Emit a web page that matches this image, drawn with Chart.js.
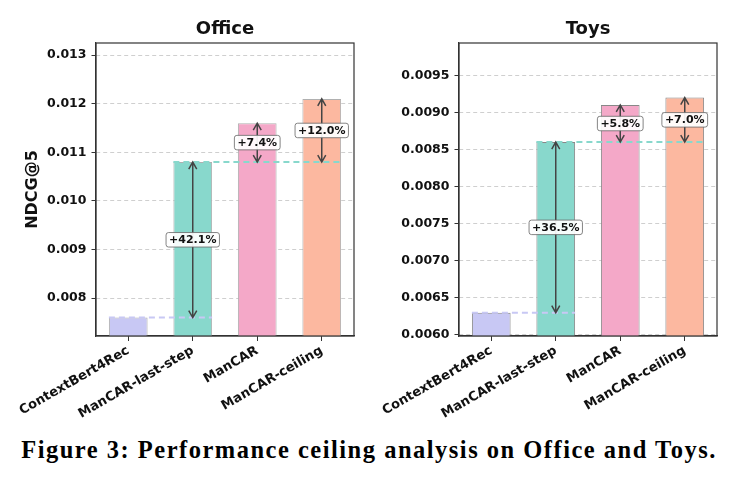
<!DOCTYPE html>
<html>
<head>
<meta charset="utf-8">
<script src="https://cdn.jsdelivr.net/npm/chart.js@4.4.1/dist/chart.umd.min.js"></script>
<style>
  body { margin: 0; background: #fff; }
  #wrap { position: relative; width: 738px; height: 484px; }
  #officeChart { position: absolute; left: 0; top: 0; }
  #toysChart { position: absolute; left: 369px; top: 0; }
  #caption {
    position: absolute; left: 0; top: 436px; width: 738px;
    text-align: center; white-space: nowrap; color: #000;
    font: bold 24.5px "Liberation Serif", serif; letter-spacing: 1.5px;
  }
</style>
</head>
<body>
<div id="wrap">
  <canvas id="officeChart" width="369" height="430"></canvas>
  <canvas id="toysChart" width="369" height="430"></canvas>
  <div id="caption">Figure 3: Performance ceiling analysis on Office and Toys.</div>
</div>
<script>
const categories = ["ContextBert4Rec", "ManCAR-last-step", "ManCAR", "ManCAR-ceiling"];
const officeValues = [0.0076, 0.0108, 0.0116, 0.0121];
const toysValues = [0.0063, 0.0086, 0.0091, 0.0092];
const officeTicks = [0.008, 0.009, 0.010, 0.011, 0.012, 0.013];
const toysTicks = [0.0060, 0.0065, 0.0070, 0.0075, 0.0080, 0.0085, 0.0090, 0.0095];
const barColors = ["#c8c8f4", "#88d8cc", "#f4a8c8", "#fcb8a0"];
// [base bar, improved bar]
const comparisons = [[0, 1], [1, 2], [1, 3]];
// dashed reference line: [bar whose value it marks, last bar it reaches]
const refLines = [[0, 1], [1, 3]];

const ceilingPlugin = {
  id: "ceiling",
  afterDatasetsDraw(chart) {
    const ctx = chart.ctx;
    const yScale = chart.scales.y;
    const bars = chart.getDatasetMeta(0).data;
    const vals = chart.data.datasets[0].data;

    ctx.save();
    ctx.lineWidth = 2;
    ctx.setLineDash([6, 4]);
    refLines.forEach(([i, j]) => {
      const y = yScale.getPixelForValue(vals[i]);
      ctx.strokeStyle = barColors[i];
      ctx.beginPath();
      ctx.moveTo(bars[i].x - bars[i].width / 2, y);
      ctx.lineTo(bars[j].x + bars[j].width / 2, y);
      ctx.stroke();
    });
    ctx.restore();

    ctx.save();
    ctx.strokeStyle = "#444";
    ctx.lineWidth = 1.5;
    comparisons.forEach(([a, b]) => {
      const x = bars[b].x;
      const yLow = yScale.getPixelForValue(vals[a]);
      const yHigh = yScale.getPixelForValue(vals[b]);
      ctx.beginPath();
      ctx.moveTo(x, yLow);
      ctx.lineTo(x, yHigh);
      ctx.moveTo(x - 4, yHigh + 7);
      ctx.lineTo(x, yHigh);
      ctx.lineTo(x + 4, yHigh + 7);
      ctx.moveTo(x - 4, yLow - 7);
      ctx.lineTo(x, yLow);
      ctx.lineTo(x + 4, yLow - 7);
      ctx.stroke();
    });
    ctx.restore();

    ctx.save();
    ctx.font = "bold 11px 'DejaVu Sans'";
    ctx.textAlign = "center";
    ctx.textBaseline = "middle";
    comparisons.forEach(([a, b]) => {
      const gain = (vals[b] / vals[a] - 1) * 100;
      const text = "+" + gain.toFixed(1) + "%";
      const x = bars[b].x;
      const y = yScale.getPixelForValue((vals[a] + vals[b]) / 2);
      const w = ctx.measureText(text).width + 6;
      const h = 14.5;
      ctx.beginPath();
      ctx.roundRect(x - w / 2, y - h / 2, w, h, 2.5);
      ctx.fillStyle = "rgba(255,255,255,0.92)";
      ctx.fill();
      ctx.strokeStyle = "#666";
      ctx.lineWidth = 0.8;
      ctx.stroke();
      ctx.fillStyle = "#111";
      ctx.fillText(text, x, y + 0.5);
    });
    ctx.restore();
  },
  afterDraw(chart) {
    const { left, top, right, bottom } = chart.chartArea;
    const ctx = chart.ctx;
    ctx.save();
    ctx.strokeStyle = "#333";
    ctx.lineWidth = 1.2;
    ctx.strokeRect(left, top, right - left, bottom - top);
    ctx.restore();
  },
};

function makeChart(canvasId, title, values, ticks, digits, opts) {
  const ctx = document.getElementById(canvasId).getContext("2d");
  return new Chart(ctx, {
    type: "bar",
    data: {
      labels: categories,
      datasets: [
        {
          data: values,
          backgroundColor: barColors,
          borderColor: opts.edge,
          borderWidth: 1,
          barPercentage: 0.6,
          categoryPercentage: 1,
        },
      ],
    },
    options: {
      responsive: false,
      animation: false,
      layout: { padding: { left: 0, right: opts.right, top: 0, bottom: 0 } },
      plugins: {
        legend: { display: false },
        tooltip: { enabled: false },
        title: {
          display: true,
          text: title,
          fullSize: false,
          color: "#111",
          font: { family: "DejaVu Sans", size: 18, weight: "bold" },
          padding: { top: 19, bottom: 2.4 },
        },
      },
      scales: {
        x: {
          grid: {
            drawOnChartArea: false,
            offset: false,
            tickLength: 5,
            tickColor: "#333",
          },
          border: { color: "#333", width: 1.2 },
          ticks: {
            autoSkip: false,
            minRotation: 30,
            maxRotation: 30,
            padding: 2,
            color: "#111",
            font: { family: "DejaVu Sans", size: 13, weight: "bold" },
          },
          afterFit: (scale) => { scale.height = 94; },
        },
        y: {
          min: opts.min,
          max: opts.max,
          afterBuildTicks: (scale) => { scale.ticks = ticks.map((v) => ({ value: v })); },
          grid: {
            color: "#cfcfcf",
            lineWidth: 1,
            tickLength: 4.5,
            tickColor: "#333",
          },
          border: { color: "#333", width: 1.2, dash: [4, 3] },
          ticks: {
            padding: 5,
            color: "#111",
            font: { family: "DejaVu Sans", size: 12.5, weight: "bold" },
            callback: (v) => Number(v).toFixed(digits),
          },
          title: {
            display: opts.yTitle !== "",
            text: opts.yTitle,
            color: "#111",
            font: { family: "DejaVu Sans", size: 16, weight: "bold" },
            padding: { top: 23, bottom: 0 },
          },
          afterFit: (scale) => { scale.width = opts.yWidth; },
        },
      },
    },
    plugins: [ceilingPlugin],
  });
}

makeChart("officeChart", "Office", officeValues, officeTicks, 3, {
  min: 0.00722, max: 0.01325, edge: "#b0b0b0", right: 15, yWidth: 96, yTitle: "NDCG@5",
});
makeChart("toysChart", "Toys", toysValues, toysTicks, 4, {
  min: 0.005985, max: 0.009936, edge: "#888888", right: 21, yWidth: 90, yTitle: "",
});
</script>
</body>
</html>
